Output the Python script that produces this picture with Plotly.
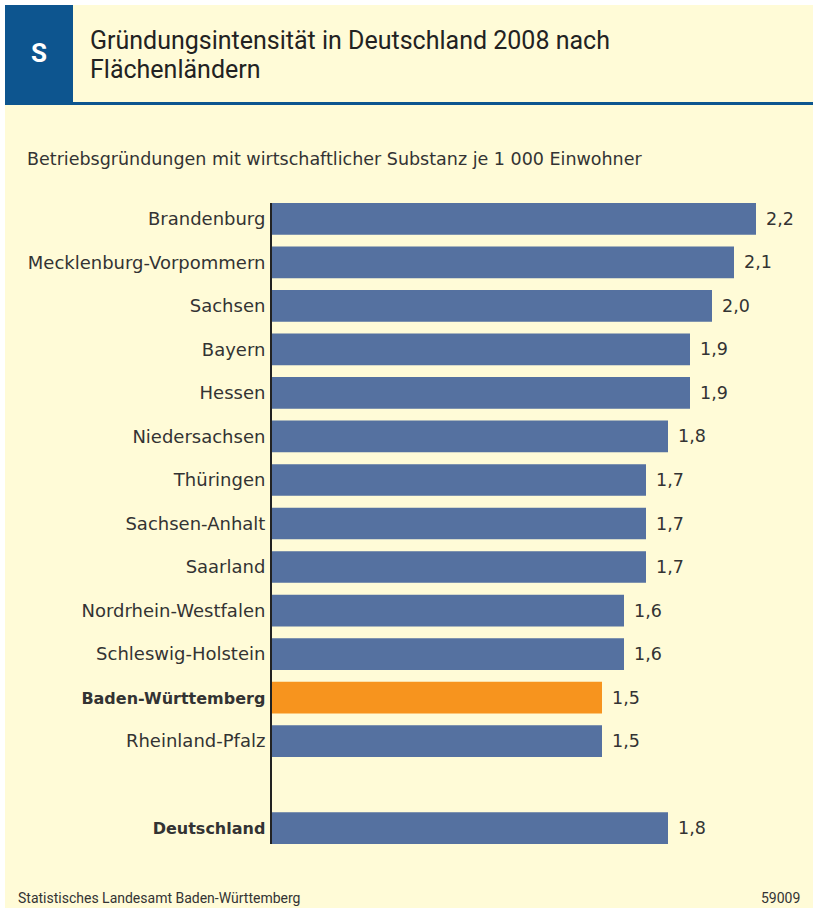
import plotly.graph_objects as go

states = ["Brandenburg", "Mecklenburg-Vorpommern", "Sachsen", "Bayern", "Hessen",
          "Niedersachsen", "Thüringen", "Sachsen-Anhalt", "Saarland",
          "Nordrhein-Westfalen", "Schleswig-Holstein", "Baden-Württemberg", "Rheinland-Pfalz"]
state_values = [2.2, 2.1, 2.0, 1.9, 1.9, 1.8, 1.7, 1.7, 1.7, 1.6, 1.6, 1.5, 1.5]
total_label = "Deutschland"
total_value = 1.8
highlight = "Baden-Württemberg"

title_lines = ["Gründungsintensität in Deutschland 2008 nach", "Flächenländern"]
subtitle = "Betriebsgründungen mit wirtschaftlicher Substanz je 1 000 Einwohner"
source = "Statistisches Landesamt Baden-Württemberg"
chart_no = "59009"

BLUE = "#5571A0"
ORANGE = "#F7941E"
TEXT = "#333333"
BG = "#FFFBD7"
DARKBLUE = "#0D558F"

W, H = 813, 908
L, R, T, B = 272, 13, 203, 64
PW, PH = W - L - R, H - T - B

def px(x):
    return (x - L) / PW

def py(y):
    return (H - B - y) / PH

labels = states + [total_label]
values = state_values + [total_value]
ypos = list(range(len(states))) + [len(states) + 1]
colors = [ORANGE if s == highlight else BLUE for s in labels]
ticktext = [f"<b><span style='font-size:16px'>{s}</span></b>" if s in (highlight, total_label) else s
            for s in labels]

fig = go.Figure(go.Bar(
    x=values, y=ypos, orientation="h",
    marker=dict(color=colors, line=dict(width=0)),
    hoverinfo="skip",
))

annotations = []
for v, yv in zip(values, ypos):
    annotations.append(dict(x=v, y=yv, xref="x", yref="y", text=f"{v:.1f}".replace(".", ","),
                            showarrow=False, xanchor="left", yanchor="middle", xshift=8,
                            font=dict(family="DejaVu Sans", size=17.5, color=TEXT)))

annotations += [
    dict(x=px(39), y=py(53), xref="paper", yref="paper", text="<b>S</b>", showarrow=False,
         xanchor="center", yanchor="middle", font=dict(family="Roboto", size=26, color="white")),
    dict(x=px(88), y=py(40.5), xref="paper", yref="paper", text=title_lines[0], showarrow=False,
         xanchor="left", yanchor="middle", align="left",
         font=dict(family="Roboto", size=25, color="#222222")),
    dict(x=px(88), y=py(69.5), xref="paper", yref="paper", text=title_lines[1], showarrow=False,
         xanchor="left", yanchor="middle", align="left",
         font=dict(family="Roboto", size=25, color="#222222")),
    dict(x=px(25), y=py(159), xref="paper", yref="paper", text=subtitle, showarrow=False,
         xanchor="left", yanchor="middle", font=dict(family="DejaVu Sans", size=17.5, color=TEXT)),
    dict(x=px(16), y=py(898), xref="paper", yref="paper", text=source, showarrow=False,
         xanchor="left", yanchor="middle", font=dict(family="Roboto", size=14, color=TEXT)),
    dict(x=px(802), y=py(898), xref="paper", yref="paper", text=chart_no, showarrow=False,
         xanchor="right", yanchor="middle", font=dict(family="Roboto", size=14, color=TEXT)),
]

shapes = [
    dict(type="rect", xref="paper", yref="paper", x0=px(5), x1=px(W), y0=py(H), y1=py(5),
         fillcolor=BG, line=dict(width=0), layer="below"),
    dict(type="rect", xref="paper", yref="paper", x0=px(5), x1=px(73), y0=py(102), y1=py(5),
         fillcolor=DARKBLUE, line=dict(width=0), layer="below"),
    dict(type="rect", xref="paper", yref="paper", x0=px(5), x1=px(W), y0=py(105), y1=py(102),
         fillcolor=DARKBLUE, line=dict(width=0), layer="below"),
]

fig.update_layout(
    width=W, height=H,
    margin=dict(l=L, r=R, t=T, b=B, pad=0),
    paper_bgcolor="white", plot_bgcolor="rgba(0,0,0,0)",
    bargap=0.272,
    showlegend=False,
    xaxis=dict(range=[0, 2.4], visible=False, fixedrange=True),
    yaxis=dict(range=[len(states) + 1 + 0.364, -0.364], tickmode="array",
               tickvals=ypos, ticktext=ticktext, showgrid=False, zeroline=False,
               showline=True, linecolor="#222222", linewidth=2, ticks="",
               ticklabelstandoff=1,
               tickfont=dict(family="DejaVu Sans", size=18, color=TEXT), fixedrange=True),
    annotations=annotations,
    shapes=shapes,
)

fig.write_html("out.html", config={"displayModeBar": False},
               post_script="document.body.style.margin='0';document.body.style.overflow='hidden';")
